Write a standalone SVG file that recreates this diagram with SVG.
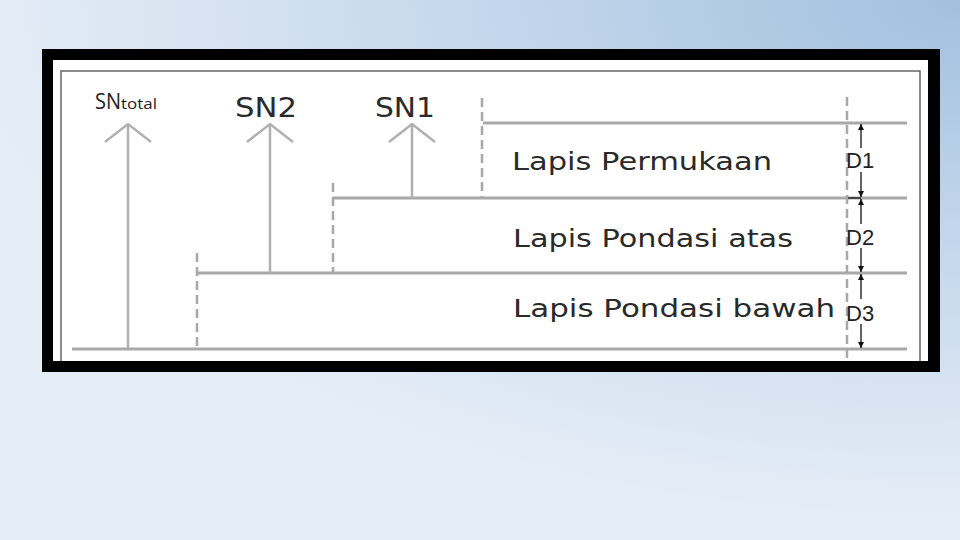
<svg xmlns="http://www.w3.org/2000/svg" width="960" height="540" viewBox="0 0 960 540">
<defs>
<radialGradient id="bg" gradientUnits="userSpaceOnUse" cx="960" cy="0" r="1" gradientTransform="translate(960,0) scale(1000,520) translate(-960,0)">
<stop offset="0" stop-color="#a2c0de"/>
<stop offset="0.45" stop-color="#c2d6eb"/>
<stop offset="0.8" stop-color="#dae5f2"/>
<stop offset="1" stop-color="#e5edf7"/>
</radialGradient>
<marker id="dh" viewBox="0 0 8 10" refX="8" refY="5" markerWidth="6" markerHeight="8" orient="auto" markerUnits="userSpaceOnUse">
<path d="M0,1 L8,5 L0,9 Z" fill="#111"/>
</marker>
<style>
.layer{stroke:#a8a8a8;stroke-width:3;fill:none}
.dash{stroke:#a8a8a8;stroke-width:2.5;stroke-dasharray:9 5;fill:none}
.sn{stroke:#b0b0b0;stroke-width:2.5;fill:none}
.dim{stroke:#111;stroke-width:1.3;fill:none}
.lbl{font-family:"DejaVu Sans",Verdana,sans-serif;font-size:24px;fill:#2a2a2a}
.dl{font-family:"Liberation Sans",Arial,sans-serif;font-size:22px;fill:#222}
.tot{font-family:"Open Sans","Liberation Sans",sans-serif;font-size:21px;fill:#222}
</style>
</defs>
<rect width="960" height="540" fill="#e5edf7"/>
<rect width="960" height="540" fill="url(#bg)"/>
<rect x="42" y="49" width="898" height="323" fill="#000"/>
<rect x="53" y="60" width="875" height="301" fill="#fff"/>
<path d="M61,361 V71 H920 V361" stroke="#666" stroke-width="1.5" fill="none"/>

<g id="connectors">
<line class="layer" x1="483" y1="123" x2="907" y2="123"/>
<line class="layer" x1="333" y1="198" x2="907" y2="198"/>
<line class="layer" x1="197" y1="273" x2="907" y2="273"/>
<line class="layer" x1="72" y1="349" x2="907" y2="349"/>
<line class="dash" x1="482" y1="98" x2="482" y2="198"/>
<line class="dash" x1="333" y1="183" x2="333" y2="273"/>
<line class="dash" x1="197" y1="253" x2="197" y2="349"/>
<line class="dash" x1="847" y1="97" x2="847" y2="361"/>
<g id="sn-total-arrow"><line class="sn" x1="128" y1="349" x2="128" y2="124"/><polyline class="sn" points="105,142 128,124 151,142"/></g>
<g id="sn2-arrow"><line class="sn" x1="270" y1="273" x2="270" y2="124"/><polyline class="sn" points="247,142 270,124 293,142"/></g>
<g id="sn1-arrow"><line class="sn" x1="412" y1="198" x2="412" y2="124"/><polyline class="sn" points="389,142 412,124 435,142"/></g>
<line class="dim" x1="848" y1="198" x2="861" y2="198"/>
<line class="dim" x1="861" y1="148" x2="861" y2="124" marker-end="url(#dh)"/>
<line class="dim" x1="861" y1="172" x2="861" y2="197" marker-end="url(#dh)"/>
<line class="dim" x1="861" y1="224" x2="861" y2="199" marker-end="url(#dh)"/>
<line class="dim" x1="861" y1="248" x2="861" y2="272" marker-end="url(#dh)"/>
<line class="dim" x1="861" y1="299" x2="861" y2="274" marker-end="url(#dh)"/>
<line class="dim" x1="861" y1="324" x2="861" y2="348" marker-end="url(#dh)"/>
</g>

<g id="sn-total"><text class="tot" x="95" y="109"><tspan textLength="26" lengthAdjust="spacingAndGlyphs">SN</tspan><tspan style="font-size:14px" textLength="36" lengthAdjust="spacingAndGlyphs">total</tspan></text></g>
<g id="sn2"><text class="lbl" x="235" y="117" style="font-size:26px" textLength="62" lengthAdjust="spacingAndGlyphs">SN2</text></g>
<g id="sn1"><text class="lbl" x="375" y="117" style="font-size:26px" textLength="60" lengthAdjust="spacingAndGlyphs">SN1</text></g>
<g id="lapis-permukaan"><text class="lbl" x="512" y="170" textLength="260" lengthAdjust="spacingAndGlyphs">Lapis Permukaan</text></g>
<g id="lapis-pondasi-atas"><text class="lbl" x="513" y="247" textLength="280" lengthAdjust="spacingAndGlyphs">Lapis Pondasi atas</text></g>
<g id="lapis-pondasi-bawah"><text class="lbl" x="513" y="317" textLength="322" lengthAdjust="spacingAndGlyphs">Lapis Pondasi bawah</text></g>
<g id="d1"><text class="dl" x="846" y="168">D1</text></g>
<g id="d2"><text class="dl" x="846" y="245">D2</text></g>
<g id="d3"><text class="dl" x="846" y="321">D3</text></g>
</svg>
